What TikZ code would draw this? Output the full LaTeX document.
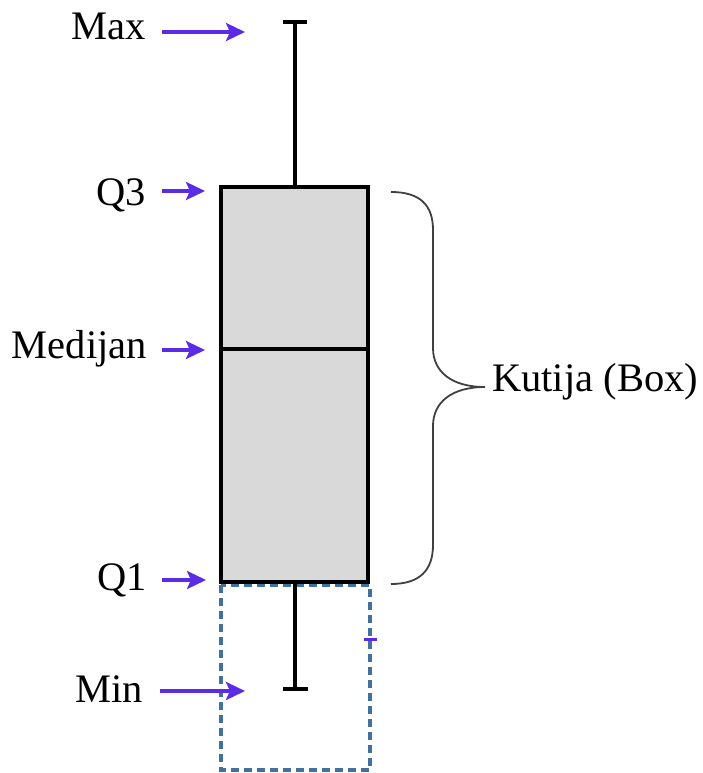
\documentclass[tikz,border=0pt]{standalone}
\usepackage{fontspec}
\setmainfont{Liberation Serif}
\usetikzlibrary{arrows.meta}
\definecolor{arrpurple}{HTML}{5B2BE6}
\definecolor{boxfill}{HTML}{D9D9D9}
\definecolor{dashblue}{HTML}{41719C}
\definecolor{bracegray}{HTML}{404040}
\tikzset{
  lbl/.style={inner sep=0pt, font=\fontsize{40.5}{42}\selectfont},
  arr/.style={arrpurple, line width=3.5pt, -{Stealth[length=19pt,width=18pt,inset=4pt]}},
  whisk/.style={black, line width=3.6pt},
}
\begin{document}
\begin{tikzpicture}[x=1pt,y=-1pt]
\useasboundingbox (0,0) rectangle (703,773);
% dashed region
\draw[dashblue, line width=3.2pt, dash pattern=on 8pt off 5pt] (221,585) rectangle (370,770);
% whiskers
\coordinate (maxtop) at (295,22);
\coordinate (mintop) at (295,689);
\draw[whisk] (283,22) -- (307,22);
\draw[whisk] (maxtop) -- (295,187);
\draw[whisk] (295,582) -- (mintop);
\draw[whisk] (283,689) -- (308,689);
% box
\node[draw=black, fill=boxfill, line width=3.6pt, minimum width=147pt, minimum height=395pt, inner sep=0pt] (box) at (294.5,384.5) {};
\draw[whisk] (221,349) -- (368,349);
% small tick
\draw[arrpurple, line width=3pt] (364,639) -- (377,639);
% labels
\node[lbl, anchor=base east] (lmax) at (146,40) {Max};
\node[lbl, anchor=base east] (lq3) at (146,205) {Q3};
\node[lbl, anchor=base east] (lmed) at (147,358) {Medijan};
\node[lbl, anchor=base east] (lq1) at (147,590) {Q1};
\node[lbl, anchor=base east] (lmin) at (143,702) {Min};
\node[lbl, anchor=base west] (lbox) at (492,391) {Kutija (Box)};
% arrows
\coordinate (amax) at (245,32);
\coordinate (aq3) at (205,191);
\coordinate (amed) at (205,350);
\coordinate (aq1) at (206,580);
\coordinate (amin) at (245,691);
\draw[arr] (162,32) -- (amax);
\draw[arr] (162,191) -- (aq3);
\draw[arr] (162,350) -- (amed);
\draw[arr] (162,580) -- (aq1);
\draw[arr] (160,691) -- (amin);
% brace
\draw[bracegray, line width=1.8pt] (391,192) .. controls (420,192) and (433,205) .. (433,230)
  -- (433,348) .. controls (433,372) and (452,387) .. (485,387)
  .. controls (452,387) and (433,402) .. (433,426)
  -- (433,545) .. controls (433,570) and (420,584) .. (391,584);
\end{tikzpicture}
\end{document}
